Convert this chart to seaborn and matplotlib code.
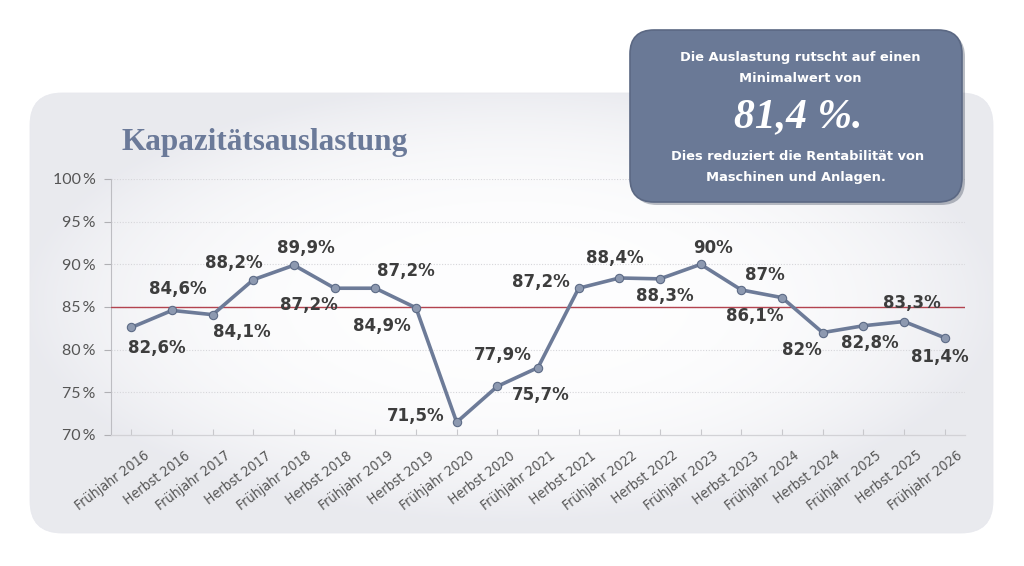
import matplotlib
matplotlib.use("Agg")
import matplotlib.pyplot as plt
from matplotlib.patches import FancyBboxPatch
import seaborn as sns
import numpy as np
import pandas as pd

# Daten: Kapazitätsauslastung je Halbjahr
perioden = ["Frühjahr 2016", "Herbst 2016", "Frühjahr 2017", "Herbst 2017", "Frühjahr 2018",
            "Herbst 2018", "Frühjahr 2019", "Herbst 2019", "Frühjahr 2020", "Herbst 2020",
            "Frühjahr 2021", "Herbst 2021", "Frühjahr 2022", "Herbst 2022", "Frühjahr 2023",
            "Herbst 2023", "Frühjahr 2024", "Herbst 2024", "Frühjahr 2025", "Herbst 2025",
            "Frühjahr 2026"]
auslastung = [82.6, 84.6, 84.1, 88.2, 89.9, 87.2, 87.2, 84.9, 71.5, 75.7, 77.9,
              87.2, 88.4, 88.3, 90.0, 87.0, 86.1, 82.0, 82.8, 83.3, 81.4]
referenz = 85
y_ticks = [70, 75, 80, 85, 90, 95, 100]

# Versatz der Beschriftungen (Pixel)
label_offsets = [(25, -21), (6, 21), (29, -17), (-20, 17), (12, 17), (-26, -17), (31, 17),
                 (-34, -18), (-41, 6), (43, -9), (-35, 13), (-38, 6), (-5, 20), (5, -17),
                 (12, 16), (24, 15), (-27, -18), (-21, -17), (6, -17), (8, 19), (-5, -19)]

df = pd.DataFrame({"pos": np.arange(len(perioden)), "wert": auslastung})

sns.set_theme(style="white")
plt.rcParams["font.family"] = ["DejaVu Sans"]

W, H = 1024, 566
fig = plt.figure(figsize=(W / 100, H / 100), dpi=100)
fig.patch.set_facecolor("white")

# Hintergrund-Panel mit Verlauf
ax_bg = fig.add_axes([0, 0, 1, 1], zorder=-10)
ax_bg.set_xlim(0, W)
ax_bg.set_ylim(H, 0)
ax_bg.axis("off")
panel = FancyBboxPatch((30, 93), 963, 440, boxstyle="round,pad=0,rounding_size=32",
                       facecolor="none", edgecolor="#e8e9ee", lw=0.6)
ax_bg.add_patch(panel)
gx, gy = np.meshgrid(np.linspace(-1, 1, 400), np.linspace(-1, 1, 200))
r = np.clip(np.sqrt((gx / 1.02) ** 2 + ((gy + 0.05) / 1.0) ** 2), 0, 1)
c0 = np.array([0.996, 0.996, 0.998])
c1 = np.array([0.915, 0.918, 0.937])
t = r ** 3.0
img = c0[None, None, :] * (1 - t[..., None]) + c1[None, None, :] * t[..., None]
im = ax_bg.imshow(img, extent=(30, 993, 533, 93), aspect="auto", interpolation="bilinear")
im.set_clip_path(panel)

ax_bg.text(121, 150, "Kapazitätsauslastung", fontsize=22.5, fontweight="bold",
           family=["Liberation Serif", "DejaVu Serif"], color="#6b7a99", va="baseline", ha="left")

# Diagramm
ax = fig.add_axes([111 / W, 1 - 435 / H, 854 / W, 256 / H])
ax.set_facecolor("none")
sns.lineplot(data=df, x="pos", y="wert", ax=ax, color="#6d7b98", lw=2.6, marker="o",
             markersize=6, markerfacecolor="#8d99b0", markeredgecolor="#5d6b86",
             markeredgewidth=0.8, zorder=5)
ax.axhline(referenz, color="#b3434f", lw=1.0, zorder=4)

for i, (v, (dx, dy)) in enumerate(zip(auslastung, label_offsets)):
    txt = f"{v:g}".replace(".", ",") + "%"
    ax.annotate(txt, (i, v), xytext=(dx, dy), textcoords="offset pixels",
                ha="center", va="center", fontsize=12, fontweight="bold", color="#3d3d3d", zorder=6)

ax.set_xlim(-0.5, len(perioden) - 0.5)
ax.set_ylim(70, 100)
ax.set_yticks(y_ticks)
ax.set_yticklabels([f"{v}\u2009%" for v in y_ticks], family=["Lato", "DejaVu Sans"],
                   fontsize=11.5, color="#555555")
for y in y_ticks[1:]:
    ax.axhline(y, color="#d6d6da", lw=0.8, ls=(0, (1, 1.5)), zorder=1)

# x-Beschriftungen schräg, rechts oben an der Tick-Marke
ax.set_xticks(df["pos"])
ax.set_xticklabels([])
for i, lab in enumerate(perioden):
    ax.annotate(lab, (i, 0), xycoords=("data", "axes fraction"), xytext=(16, -19),
                textcoords="offset pixels", rotation=37, rotation_mode="anchor",
                ha="right", va="center", fontsize=10.2, fontstretch="condensed",
                family=["DejaVu Sans"], color="#555555", annotation_clip=False)

ax.tick_params(axis="x", direction="in", length=4, width=0.8, color="#c8c8cc", pad=0, bottom=True)
ax.tick_params(axis="y", direction="out", length=5, width=0.8, color="#b0b0b4", pad=6, left=True)
ax.set_xlabel("")
ax.set_ylabel("")
for s in ["top", "right"]:
    ax.spines[s].set_visible(False)
ax.spines["left"].set_color("#bdbdc2")
ax.spines["left"].set_linewidth(0.8)
ax.spines["bottom"].set_color("#d2d2d6")
ax.spines["bottom"].set_linewidth(0.9)

# Hinweisbox
ax_top = fig.add_axes([0, 0, 1, 1], zorder=10)
ax_top.set_xlim(0, W)
ax_top.set_ylim(H, 0)
ax_top.axis("off")
ax_top.patch.set_alpha(0)
ax_top.add_patch(FancyBboxPatch((633, 33), 332, 172, boxstyle="round,pad=0,rounding_size=24",
                                facecolor="#3a4457", alpha=0.35, edgecolor="none"))
ax_top.add_patch(FancyBboxPatch((630, 30), 332, 172, boxstyle="round,pad=0,rounding_size=24",
                                facecolor="#6a7996", edgecolor="#5b6883", lw=1.2))
box_font = dict(color="white", fontweight="bold", fontsize=9.4, ha="center", va="center")
ax_top.text(800, 58, "Die Auslastung rutscht auf einen", **box_font)
ax_top.text(800, 79, "Minimalwert von", **box_font)
ax_top.text(798, 117, "81,4 %.", color="white", fontsize=30, fontweight="bold", style="italic",
            family=["Liberation Serif", "DejaVu Serif"], ha="center", va="center")
ax_top.text(798, 156, "Dies reduziert die Rentabilität von", **box_font)
ax_top.text(796, 178, "Maschinen und Anlagen.", **box_font)

fig.savefig("out.png", dpi=100)
